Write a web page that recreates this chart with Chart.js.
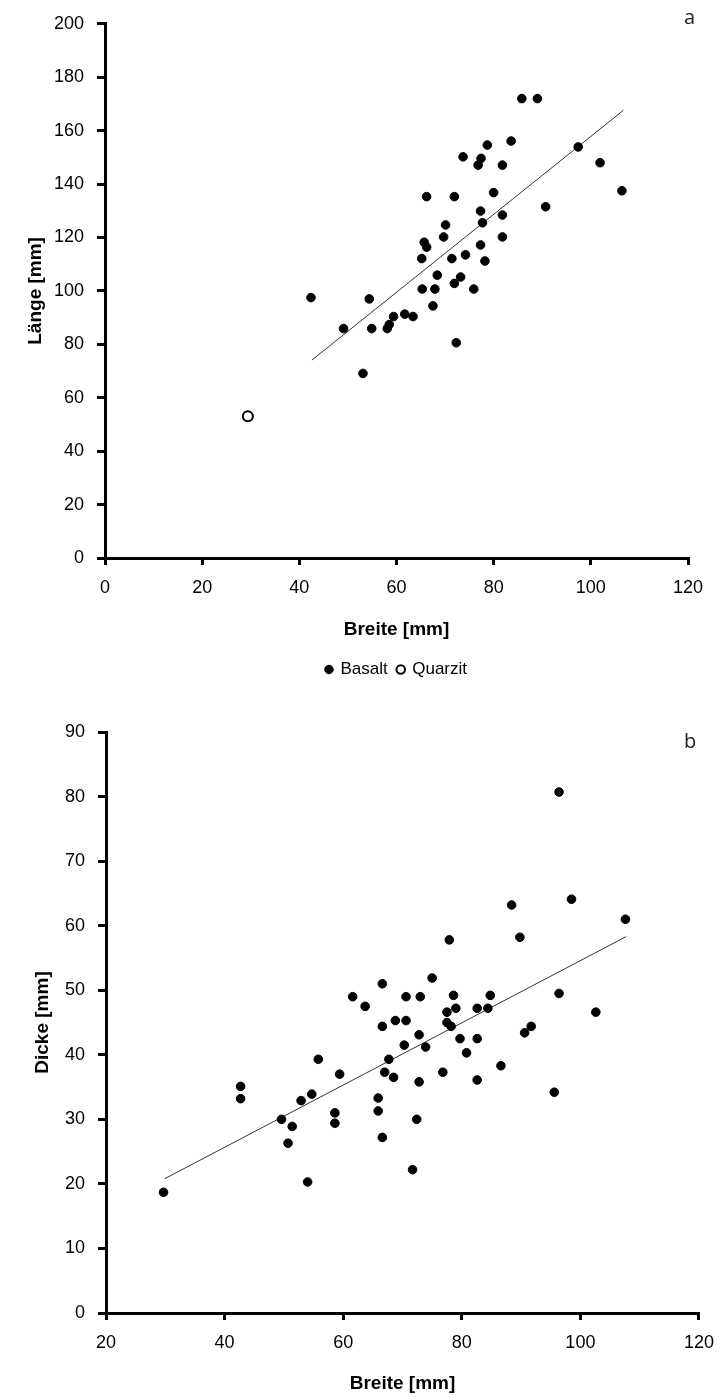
<!DOCTYPE html>
<html><head><meta charset="utf-8">
<script src="https://cdn.jsdelivr.net/npm/chart.js@4.4.0/dist/chart.umd.min.js"></script>
<style>
html,body{margin:0;padding:0;background:#fff;}
#wrap{position:relative;width:726px;height:1397px;overflow:hidden;}
canvas{position:absolute;left:0;}
#ca{top:0;}
#cb{top:700px;}
.lbl{position:absolute;font-family:"Open Sans";font-size:20px;color:#222;line-height:24px;}
</style></head><body>
<div id="wrap">
<canvas id="ca" width="726" height="700"></canvas>
<canvas id="cb" width="726" height="697"></canvas>
<div class="lbl" style="left:684px;top:5px">a</div>
<div class="lbl" style="left:684px;top:729px">b</div>
</div>
<script>
// ---- Chart a: Breite vs Länge ----
const basaltBreiteA = [85.8, 89.0, 78.7, 83.6, 97.4, 73.7, 77.4, 76.8, 81.8, 101.9,
  106.4, 66.2, 71.9, 80.0, 90.7, 77.3, 81.8, 77.7, 70.1, 69.7,
  81.8, 65.7, 66.2, 77.3, 65.2, 71.4, 74.2, 78.2, 68.4, 73.2,
  71.9, 65.3, 67.9, 75.9, 42.4, 54.4, 67.5, 59.4, 61.7, 63.4,
  58.5, 58.1, 49.1, 54.9, 72.3, 53.1];
const basaltLaengeA = [172.0, 172.0, 154.6, 156.1, 153.9, 150.2, 149.6, 147.1, 147.1, 148.0,
  137.5, 135.3, 135.3, 136.8, 131.5, 129.9, 128.4, 125.5, 124.7, 120.2,
  120.2, 118.2, 116.4, 117.2, 112.1, 112.1, 113.5, 111.2, 105.9, 105.2,
  102.8, 100.7, 100.7, 100.7, 97.5, 97.0, 94.4, 90.4, 91.3, 90.4,
  87.4, 85.9, 85.9, 85.9, 80.6, 69.1];
const quarzitBreiteA = [29.4];
const quarzitLaengeA = [53.1];
const trendBreiteA = [42.6, 106.7];
const trendLaengeA = [74.1, 167.6];
const xTicksA = [0, 20, 40, 60, 80, 100, 120];
const yTicksA = [0, 20, 40, 60, 80, 100, 120, 140, 160, 180, 200];

// ---- Chart b: Breite vs Dicke ----
const breiteB = [96.4, 88.4, 98.5, 107.6, 77.9, 89.8, 66.6, 75.0, 61.6, 70.6,
  73.0, 78.6, 84.8, 96.4, 63.7, 77.5, 79.0, 82.6, 84.4, 68.8,
  70.6, 66.6, 77.5, 78.2, 102.6, 91.7, 90.6, 72.8, 79.7, 82.6,
  70.3, 73.9, 80.8, 67.7, 55.8, 59.4, 67.0, 68.5, 76.8, 72.8,
  82.6, 86.6, 95.6, 42.7, 42.7, 54.7, 52.9, 65.9, 65.9, 58.6,
  58.6, 49.6, 51.4, 72.4, 66.6, 50.7, 71.7, 54.0, 29.7];
const dickeB = [80.7, 63.2, 64.1, 61.0, 57.8, 58.2, 51.0, 51.9, 49.0, 49.0,
  49.0, 49.2, 49.2, 49.5, 47.5, 46.6, 47.2, 47.2, 47.2, 45.3,
  45.3, 44.4, 45.0, 44.4, 46.6, 44.4, 43.4, 43.1, 42.5, 42.5,
  41.5, 41.2, 40.3, 39.3, 39.3, 37.0, 37.3, 36.5, 37.3, 35.8,
  36.1, 38.3, 34.2, 35.1, 33.2, 33.9, 32.9, 33.3, 31.3, 31.0,
  29.4, 30.0, 28.9, 30.0, 27.2, 26.3, 22.2, 20.3, 18.7];
const trendBreiteB = [29.9, 107.7];
const trendDickeB = [20.8, 58.3];
const xTicksB = [20, 40, 60, 80, 100, 120];
const yTicksB = [0, 10, 20, 30, 40, 50, 60, 70, 80, 90];

const pts = (xs, ys) => xs.map((x, i) => ({x: x, y: ys[i]}));
const FONT = '"Liberation Sans", Arial, sans-serif';
Chart.defaults.font.family = FONT;
Chart.defaults.color = '#000';

function axis(ticksArr, size, isX, title, titlePad) {
  return {
    type: 'linear',
    position: isX ? 'bottom' : 'left',
    min: ticksArr[0],
    max: ticksArr[ticksArr.length - 1],
    afterBuildTicks: s => { s.ticks = ticksArr.map(v => ({value: v})); },
    afterFit: s => { if (isX) s.height = size; else s.width = size; },
    grid: { drawOnChartArea: false, drawTicks: true, tickLength: isX ? 7 : 8,
            tickWidth: 3, tickColor: '#000', color: '#000', lineWidth: 3 },
    border: { display: true, width: 3, color: '#000' },
    ticks: { font: { size: 18, family: FONT }, color: '#000', padding: isX ? 12 : 13,
             maxRotation: 0, autoSkip: false },
    title: { display: true, text: title, color: '#000',
             font: { size: 19, weight: 'bold', family: FONT }, padding: titlePad }
  };
}

const trendStyle = { showLine: true, pointRadius: 0, borderColor: '#333', borderWidth: 1,
                     backgroundColor: '#333', fill: false };

new Chart(document.getElementById('ca'), {
  type: 'scatter',
  data: {
    datasets: [
      { label: 'Basalt', data: pts(basaltBreiteA, basaltLaengeA), pointStyle: 'circle',
        pointRadius: 4.3, backgroundColor: '#000', borderColor: '#000', borderWidth: 1 },
      { label: 'Quarzit', data: pts(quarzitBreiteA, quarzitLaengeA), pointStyle: 'circle',
        pointRadius: 5, backgroundColor: '#fff', borderColor: '#000', borderWidth: 2 },
      Object.assign({ label: 'Trend', data: pts(trendBreiteA, trendLaengeA) }, trendStyle)
    ]
  },
  options: {
    responsive: false, animation: false,
    layout: { padding: { left: 0, top: 18, right: 38, bottom: 12 } },
    scales: {
      x: axis(xTicksA, 93, true, 'Breite [mm]', { top: 0, bottom: 10 }),
      y: axis(yTicksA, 105, false, 'Länge [mm]', { top: 24, bottom: 0 })
    },
    plugins: {
      tooltip: { enabled: false },
      legend: {
        display: true, position: 'bottom', fullSize: false,
        labels: { usePointStyle: true, boxWidth: 6, boxHeight: 6, padding: 10,
                  font: { size: 17, family: FONT }, color: '#000',
                  filter: item => item.text !== 'Trend' }
      }
    }
  }
});

new Chart(document.getElementById('cb'), {
  type: 'scatter',
  data: {
    datasets: [
      { label: 'Basalt', data: pts(breiteB, dickeB), pointStyle: 'circle',
        pointRadius: 4.3, backgroundColor: '#000', borderColor: '#000', borderWidth: 1 },
      Object.assign({ label: 'Trend', data: pts(trendBreiteB, trendDickeB) }, trendStyle)
    ]
  },
  options: {
    responsive: false, animation: false,
    layout: { padding: { left: 0, top: 32, right: 20, bottom: 0 } },
    scales: {
      x: axis(xTicksB, 84, true, 'Breite [mm]', { top: 0, bottom: 2 }),
      y: axis(yTicksB, 106, false, 'Dicke [mm]', { top: 31, bottom: 0 })
    },
    plugins: { tooltip: { enabled: false }, legend: { display: false } }
  }
});
</script>
</body></html>
